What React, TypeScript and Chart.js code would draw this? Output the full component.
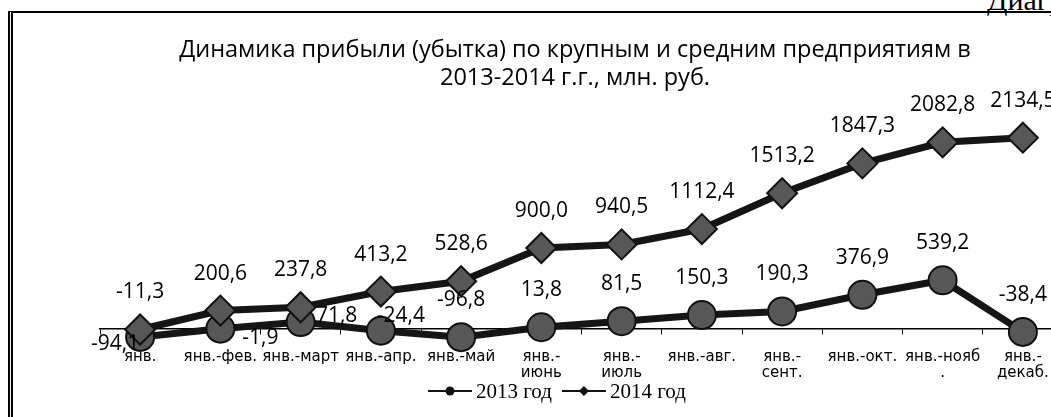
import React, { useEffect, useRef } from 'react';
import { Chart, registerables } from 'chart.js';

Chart.register(...registerables);

// ---- data ----
const categories: (string | string[])[] = [
  'янв.',
  'янв.-фев.',
  'янв.-март',
  'янв.-апр.',
  'янв.-май',
  ['янв.-', 'июнь'],
  ['янв.-', 'июль'],
  'янв.-авг.',
  ['янв.-', 'сент.'],
  'янв.-окт.',
  ['янв.-нояб', '.'],
  ['янв.-', 'декаб.'],
];
const values2013 = [-94.1, -1.9, 71.8, -24.4, -96.8, 13.8, 81.5, 150.3, 190.3, 376.9, 539.2, -38.4];
const values2014 = [-11.3, 200.6, 237.8, 413.2, 528.6, 900.0, 940.5, 1112.4, 1513.2, 1847.3, 2082.8, 2134.5];
const seriesLabels = ['2013 год', '2014 год'];
const titleLines = [
  'Динамика прибыли (убытка) по крупным и средним предприятиям в',
  '2013-2014 г.г., млн. руб.',
];
const pageCaption = 'Диаграмма';

// label placement keywords (style, not data)
const labelPlacement2013 = ['left', 'belowRight', 'right', 'aboveRight', 'above', 'above', 'above', 'above', 'above', 'above', 'above', 'above'];
const labelPlacement2014 = ['above', 'above', 'above', 'above', 'above', 'above', 'above', 'above', 'above', 'above', 'above', 'above'];

const PLACEMENT_OFFSETS: Record<string, [number, number]> = {
  above: [0, -37],
  left: [-25, 7],
  right: [36, -6],
  belowRight: [40, 9],
  aboveRight: [20, -15],
};

const fmt = (v: number) => v.toFixed(1).replace('.', ',');

const LABEL_FONT = '21px "Open Sans"';
const LEGEND_FONT = '21px "Liberation Serif"';
const LEGEND_X = 416;
const LEGEND_Y = 391;

const pointLabelPlugin = {
  id: 'pointLabels',
  afterDatasetsDraw(chart: any) {
    const ctx = chart.ctx;
    ctx.save();
    ctx.font = LABEL_FONT;
    ctx.fillStyle = '#000';
    ctx.textAlign = 'center';
    ctx.textBaseline = 'middle';
    chart.data.datasets.forEach((ds: any, i: number) => {
      const meta = chart.getDatasetMeta(i);
      const placements: string[] = ds.labelPlacement || [];
      meta.data.forEach((pt: any, j: number) => {
        const off = PLACEMENT_OFFSETS[placements[j]] || PLACEMENT_OFFSETS.above;
        ctx.fillText(fmt(ds.data[j]), pt.x + off[0], pt.y + off[1]);
      });
    });
    ctx.restore();
  },
};

const lineLegendPlugin = {
  id: 'lineLegend',
  afterDraw(chart: any) {
    const ctx = chart.ctx;
    let x = LEGEND_X;
    const y = LEGEND_Y;
    ctx.save();
    ctx.font = LEGEND_FONT;
    ctx.textBaseline = 'middle';
    ctx.textAlign = 'left';
    chart.data.datasets.forEach((ds: any) => {
      ctx.strokeStyle = '#111';
      ctx.lineWidth = 2;
      ctx.beginPath();
      ctx.moveTo(x, y);
      ctx.lineTo(x + 44, y);
      ctx.stroke();
      ctx.fillStyle = '#111';
      ctx.beginPath();
      if (ds.pointStyle === 'circle') {
        ctx.arc(x + 22, y, 4.5, 0, Math.PI * 2);
      } else {
        ctx.moveTo(x + 22, y - 5);
        ctx.lineTo(x + 27, y);
        ctx.lineTo(x + 22, y + 5);
        ctx.lineTo(x + 17, y);
        ctx.closePath();
      }
      ctx.fill();
      ctx.fillStyle = '#000';
      ctx.fillText(ds.label, x + 48, y + 1);
      x += 48 + ctx.measureText(ds.label).width + 10;
    });
    ctx.restore();
  },
};

export default function App() {
  const canvasRef = useRef<HTMLCanvasElement | null>(null);

  useEffect(() => {
    if (!canvasRef.current) return;
    const chart = new Chart(canvasRef.current, {
      type: 'line',
      data: {
        labels: categories as any,
        datasets: [
          {
            label: seriesLabels[0],
            data: values2013,
            borderColor: '#151515',
            borderWidth: 7,
            pointStyle: 'circle',
            pointRadius: 14,
            pointHoverRadius: 14,
            pointBackgroundColor: '#575757',
            pointBorderColor: '#111',
            pointBorderWidth: 2,
            tension: 0,
            fill: false,
            order: 2,
            labelPlacement: labelPlacement2013,
          } as any,
          {
            label: seriesLabels[1],
            data: values2014,
            borderColor: '#151515',
            borderWidth: 7,
            pointStyle: 'rectRot',
            pointRadius: 15,
            pointHoverRadius: 15,
            pointBackgroundColor: '#575757',
            pointBorderColor: '#111',
            pointBorderWidth: 2,
            tension: 0,
            fill: false,
            order: 1,
            labelPlacement: labelPlacement2014,
          } as any,
        ],
      },
      options: {
        responsive: false,
        animation: false,
        devicePixelRatio: 1,
        layout: { padding: { left: 88, right: 79, top: 105, bottom: 11 } },
        plugins: {
          legend: { display: false },
          title: { display: false },
          tooltip: { enabled: false },
        },
        scales: {
          x: {
            type: 'category',
            position: { y: 0 } as any,
            offset: true,
            grid: {
              offset: true,
              drawOnChartArea: false,
              drawTicks: true,
              tickLength: 5,
              color: '#000',
              lineWidth: 1,
            },
            border: { display: true, color: '#000', width: 1.5 },
            ticks: {
              autoSkip: false,
              maxRotation: 0,
              minRotation: 0,
              color: '#000',
              padding: 16,
              font: { family: 'DejaVu Sans', size: 15, lineHeight: 1.05 },
            },
          },
          y: {
            display: false,
            min: -800,
            max: 2500,
          },
        },
      },
      plugins: [pointLabelPlugin, lineLegendPlugin],
    });
    return () => chart.destroy();
  }, []);

  return (
    <div style={{ position: 'absolute', left: 0, top: 0, width: 1051, height: 417, overflow: 'hidden', background: '#fff' }}>
      <div
        style={{
          position: 'absolute',
          left: 987,
          top: -15,
          fontFamily: '"Liberation Serif", serif',
          fontSize: 30,
          lineHeight: '30px',
          whiteSpace: 'nowrap',
          color: '#000',
        }}
      >
        {pageCaption}
      </div>
      <div
        style={{
          position: 'absolute',
          left: 8,
          top: 11,
          width: 1200,
          height: 600,
          borderLeft: '5px double #000',
          borderTop: '2px solid #000',
        }}
      />
      <canvas
        ref={canvasRef}
        width={1130}
        height={417}
        style={{ position: 'absolute', left: 12, top: 0, width: 1130, height: 417 }}
      />
      <div
        style={{
          position: 'absolute',
          left: 0,
          top: 34,
          width: 1150,
          textAlign: 'center',
          fontFamily: '"Open Sans", sans-serif',
          fontSize: 23.5,
          lineHeight: '28px',
          color: '#000',
          whiteSpace: 'nowrap',
        }}
      >
        {titleLines.map((l, i) => (
          <div key={i}>{l}</div>
        ))}
      </div>
    </div>
  );
}
